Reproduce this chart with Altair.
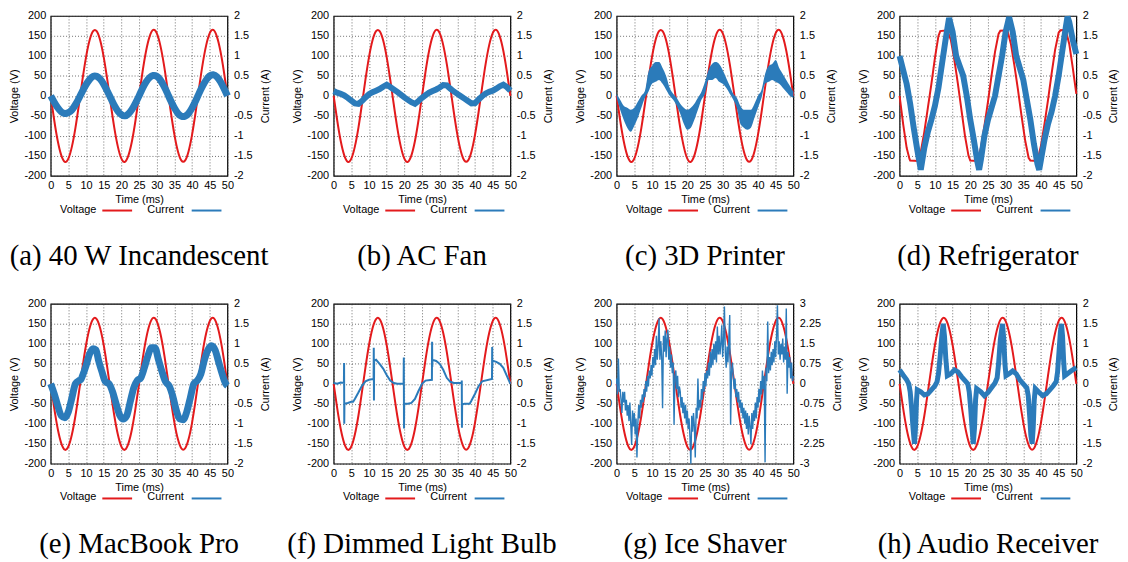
import altair as alt
import pandas as pd

RED = "#e31a1c"
BLUE = "#2b7bba"
SANS = "Liberation Sans"
SERIF = "Liberation Serif"
W, H = 178, 161

X_TICKS = [0, 5, 10, 15, 20, 25, 30, 35, 40, 45, 50]
V_TICKS = [-200, -150, -100, -50, 0, 50, 100, 150, 200]
I_TICKS_2 = [-2, -1.5, -1, -0.5, 0, 0.5, 1, 1.5, 2]
I_TICKS_3 = [-3, -2.25, -1.5, -0.75, 0, 0.75, 1.5, 2.25, 3]

captions = ["(a) 40 W Incandescent", "(b) AC Fan", "(c) 3D Printer", "(d) Refrigerator",
            "(e) MacBook Pro", "(f) Dimmed Light Bulb", "(g) Ice Shaver", "(h) Audio Receiver"]

# sampling grid (ms)
time_ms = list(range(51))

# mains voltage (V), read every 1 ms
voltage = [0, -61, -113, -149, -165, -157, -127, -80, -21, 41, 97, 139, 162, 162, 139, 97, 41,
           -21, -80, -127, -157, -165, -149, -113, -61, 0, 61, 113, 149, 165, 157, 127, 80, 21,
           -41, -97, -139, -162, -162, -139, -97, -41, 21, 80, 127, 157, 165, 149, 113, 61, 0]

# refrigerator panel voltage (flattened peaks)
fridge_v_t = [0, 1, 2, 2.8, 3, 5.3, 6, 7, 8, 9, 10, 11, 11.5, 13.5, 14.5, 15.5, 16.5, 17.5, 18.5,
              19.5, 20, 22, 23, 24, 25, 26, 27, 28, 28.5, 30.5, 31.5, 32.5, 33.5, 34.5, 35.5,
              36.5, 37, 39, 40, 41, 42, 43, 44, 45, 45.5, 47, 48, 49, 50]
fridge_v = [0, -70, -130, -158, -162, -163, -140, -90, -30, 30, 95, 150, 162, 164, 140, 90, 30,
            -35, -100, -150, -162, -163, -130, -75, -15, 50, 110, 155, 163, 164, 130, 75, 15, -50,
            -110, -155, -162, -163, -125, -70, -10, 55, 115, 158, 164, 165, 130, 70, 5]

# (a) incandescent current (A)
a_current = [0, -0.16, -0.30, -0.40, -0.44, -0.42, -0.35, -0.22, -0.06, 0.12, 0.28, 0.41, 0.49,
             0.49, 0.42, 0.29, 0.12, -0.06, -0.24, -0.38, -0.47, -0.50, -0.45, -0.34, -0.18, 0.0,
             0.19, 0.35, 0.46, 0.51, 0.49, 0.40, 0.25, 0.07, -0.13, -0.30, -0.44, -0.51, -0.51,
             -0.44, -0.30, -0.13, 0.07, 0.25, 0.40, 0.50, 0.53, 0.48, 0.36, 0.19, 0.0]

# (b) AC fan current (A)
b_current = [0.12, 0.08, 0.05, 0.01, -0.05, -0.12, -0.19, -0.20, -0.13, -0.04, 0.04, 0.09, 0.13,
             0.17, 0.23, 0.28, 0.22, 0.16, 0.10, 0.03, -0.04, -0.10, -0.16, -0.20, -0.13, -0.05,
             0.02, 0.08, 0.12, 0.16, 0.21, 0.27, 0.26, 0.18, 0.11, 0.05, -0.01, -0.07, -0.13,
             -0.19, -0.18, -0.09, -0.01, 0.06, 0.10, 0.13, 0.18, 0.24, 0.28, 0.22, 0.13]

# (c) 3D printer current envelope (A)
c_low = [-0.05, -0.35, -0.6, -0.8, -0.9, -0.75, -0.55, -0.3, -0.05, 0.1, 0.3, 0.35, 0.4, 0.3,
         0.15, 0.0, -0.1, -0.25, -0.45, -0.7, -0.85, -0.8, -0.6, -0.35, -0.1, 0.05, 0.4, 0.4,
         0.45, 0.35, 0.3, 0.2, 0.05, -0.1, -0.3, -0.7, -0.8, -0.85, -0.8, -0.55, -0.3, -0.05,
         0.3, 0.35, 0.4, 0.35, 0.3, 0.2, 0.1, 0.0, -0.05]
c_high = [0.05, -0.1, -0.25, -0.3, -0.35, -0.3, -0.15, 0.0, 0.12, 0.6, 0.75, 0.85, 0.85, 0.7,
          0.5, 0.2, 0.05, -0.05, -0.2, -0.3, -0.35, -0.3, -0.2, -0.05, 0.1, 0.35, 0.65, 0.8,
          0.85, 0.8, 0.65, 0.45, 0.25, 0.05, -0.05, -0.25, -0.35, -0.35, -0.35, -0.2, 0.0, 0.15,
          0.55, 0.75, 0.8, 0.9, 0.7, 0.55, 0.4, 0.25, 0.1]

# (d) refrigerator current (A)
d_t = [0, 1, 2, 3, 4, 5, 6, 7, 8, 9, 10, 11, 12, 13, 14, 15, 16, 17, 18, 19, 20, 21, 22, 22.5,
       23, 24, 25, 26, 27, 28, 29, 30, 31, 32, 33, 34, 35, 36, 37, 38, 39, 39.5, 40, 41, 42, 43,
       44, 45, 46, 47, 47.5, 48, 49, 50]
d_current = [1.0, 0.65, 0.3, -0.2, -0.8, -1.35, -1.85, -1.3, -0.9, -0.6, -0.25, 0.2, 0.8, 1.4,
             1.95, 1.6, 1.0, 0.75, 0.5, 0.0, -0.6, -1.1, -1.65, -1.85, -1.6, -1.0, -0.6, -0.3,
             0.0, 0.5, 1.0, 1.6, 1.97, 1.6, 1.0, 0.7, 0.4, -0.1, -0.6, -1.2, -1.7, -1.85, -1.6,
             -1.1, -0.7, -0.4, 0.0, 0.5, 1.1, 1.7, 1.98, 1.85, 1.4, 1.05]

# (e) MacBook Pro current (A)
e_t = [0, 1, 2, 3, 4, 5, 6, 7, 8, 8.5, 9, 10, 11, 12, 12.8, 13.5, 14.5, 15.5, 16.5, 17.5, 18.5,
       19.5, 20.5, 21.5, 22.5, 23.5, 24.5, 25.5, 26.5, 27.5, 28.5, 29.5, 30.5, 31.5, 32.5, 33.5,
       34.5, 35.5, 36.5, 37.5, 38.5, 39.5, 40.5, 41.5, 42.5, 43.5, 44.5, 45.5, 46.5, 47.5, 48.5,
       49.5, 50]
e_current = [0, -0.25, -0.55, -0.8, -0.85, -0.7, -0.35, 0.0, 0.08, 0.1, 0.2, 0.45, 0.75, 0.88,
             0.85, 0.6, 0.3, 0.05, 0.0, -0.2, -0.5, -0.78, -0.88, -0.8, -0.45, -0.1, 0.08, 0.15,
             0.4, 0.7, 0.9, 0.9, 0.6, 0.3, 0.05, -0.05, -0.3, -0.65, -0.88, -0.9, -0.7, -0.35,
             0.0, 0.08, 0.25, 0.6, 0.85, 0.95, 0.85, 0.55, 0.25, 0.0, -0.05]

# (f) dimmed light bulb current (A)
f_t = [0, 1, 2, 2.9, 2.95, 3.0, 3.05, 4, 5, 5.5, 6, 7, 8, 9, 10, 11.3, 11.35, 11.4, 11.45, 12,
       13, 14, 15, 16, 17, 18, 19.8, 19.85, 19.9, 19.95, 21, 22, 23, 24, 25, 26, 27.8, 27.85,
       27.9, 27.95, 29, 30, 31, 32, 33, 34, 36.2, 36.25, 36.3, 36.35, 37, 38.5, 39, 40, 41, 42,
       44.8, 44.85, 44.9, 44.95, 46, 47, 48, 49, 50]
f_current = [0.02, 0.0, 0.03, 0.02, 0.52, -1.0, -0.5, -0.48, -0.45, -0.45, -0.38, -0.22, -0.05,
             0.06, 0.1, 0.12, 0.9, -0.42, 0.58, 0.6, 0.5, 0.38, 0.22, 0.08, 0.02, 0.0, 0.0, 0.66,
             -1.12, -0.5, -0.5, -0.48, -0.38, -0.18, 0.0, 0.08, 0.1, 1.05, 0.42, 0.6, 0.57, 0.5,
             0.35, 0.15, 0.05, 0.02, 0.02, 0.08, -1.1, -0.52, -0.5, -0.5, -0.42, -0.25, -0.06,
             0.06, 0.12, 0.92, 0.4, 0.58, 0.55, 0.5, 0.4, 0.2, 0.0]

# (g) ice shaver current (A), every 0.25 ms
g_t = [k / 4 for k in range(201)]
g_current = [0.2, -0.4, 0.95, -0.3, -0.2, -0.6, -1.1, -0.3, -0.7, -0.3, -1.0, -0.6,
             -1.2, -0.8, -1.4, -0.7, -1.5, -2.3, -1.0, -1.6, -1.1, -1.9, -1.3, -2.77,
             -1.5, -0.8, -1.3, -0.6, -0.9, -0.4, -0.7, -0.2, -0.5, 0.1, -0.3, 0.3,
             -0.1, 0.5, 0.2, 0.7, 0.3, 1.0, 0.6, 1.3, 0.7, 1.8, 0.9, 1.4,
             2.46, 0.9, 1.6, 1.0, -0.92, 1.8, 1.2, 2.0, 1.0, 1.7, 2.03, 0.9,
             1.4, 0.6, 1.1, 0.4, 0.8, -1.54, 0.3, 0.5, -0.2, 0.3, -0.5, -0.1,
             -0.3, -0.9, -0.5, -1.1, -0.7, -1.3, -0.8, -1.5, -1.0, -1.7, -1.3, -2.0,
             -3.0, -1.2, -1.8, -1.1, -1.6, -2.77, -0.9, -1.3, 0.2, -1.0, -0.6, -0.9,
             -0.2, -0.6, 0.1, -0.3, 0.4, -0.1, 0.5, 0.2, 0.8, 0.3, 1.2, 0.6,
             1.3, 0.7, 1.5, 0.9, 1.6, 0.8, 2.15, 1.1, 1.8, 1.1, 1.5, 2.2,
             1.0, 1.6, 2.9, 1.2, 0.6, 1.4, 0.8, 1.7, 2.58, -1.54, 0.4, 0.8,
             0.3, -0.2, 0.2, -0.5, -0.2, -0.7, -0.3, -0.9, -0.6, -1.1, -0.7, -1.3,
             -0.9, -1.5, -1.0, -1.7, -1.1, -1.9, -1.2, -1.6, -2.27, -1.1, -1.7, -1.0,
             -1.4, -0.7, -1.3, -0.5, -0.9, -0.2, -0.7, 0.1, -0.4, 0.5, -0.2, 0.3,
             -2.95, 0.6, 0.1, 2.34, 0.4, 1.0, 0.5, 1.2, 0.7, 1.3, 0.8, 1.6,
             1.0, 1.8, 2.95, 1.1, 1.6, 0.9, 1.5, 1.1, 1.7, 0.8, 1.4, 0.9,
             2.83, -0.37, 1.2, 0.6, 1.0, 0.2, 0.8, 0.1, 0.3]

# (h) audio receiver current (A)
h_t = [0, 1, 2, 2.6, 3.0, 3.4, 3.8, 4.2, 4.5, 4.8, 5.0, 6, 7, 8, 9, 10, 10.6, 11.0, 11.5, 12.0,
       12.35, 12.7, 13.1, 13.5, 14.5, 15.5, 16.5, 17.5, 18.5, 19.3, 19.7, 20.1, 20.5, 20.85,
       21.2, 21.5, 21.8, 23, 24, 25, 26, 27, 27.6, 28.0, 28.5, 29.1, 29.5, 29.8, 30.1, 31, 32,
       33, 34, 35, 36, 36.4, 36.8, 37.15, 37.5, 37.8, 38.1, 38.4, 39.5, 40.5, 41.5, 42.5, 43.5,
       44.3, 44.7, 45.1, 45.5, 45.8, 46.1, 46.4, 46.7, 47.5, 48.5, 49.5, 50]
h_current = [0.35, 0.22, 0.1, 0.0, -0.2, -0.6, -1.1, -1.5, -1.1, -0.4, -0.15, -0.2, -0.28, -0.25,
             -0.15, -0.05, 0.05, 0.25, 0.7, 1.25, 1.5, 1.2, 0.6, 0.2, 0.25, 0.35, 0.3, 0.18, 0.08,
             0.0, -0.2, -0.6, -1.1, -1.5, -1.1, -0.4, -0.12, -0.2, -0.3, -0.22, -0.1, 0.02, 0.15,
             0.5, 1.1, 1.5, 1.1, 0.5, 0.2, 0.25, 0.32, 0.25, 0.1, 0.0, -0.1, -0.3, -0.8, -1.3,
             -1.5, -1.1, -0.4, -0.12, -0.22, -0.3, -0.25, -0.15, -0.05, 0.05, 0.3, 0.8, 1.3, 1.5,
             1.2, 0.6, 0.2, 0.25, 0.32, 0.38, 0.4]


def x_enc():
    return alt.X("t:Q", scale=alt.Scale(domain=[0, 50], nice=False, zero=False),
                 axis=alt.Axis(values=X_TICKS, title="Time (ms)", grid=True, labelFlush=False,
                               labelPadding=4, titlePadding=3))


def volt_layer(t, v, interp):
    df = pd.DataFrame({"t": t, "v": v, "i": list(range(len(t)))})
    return alt.Chart(df).mark_line(color=RED, strokeWidth=2, interpolate=interp).encode(
        x=x_enc(),
        y=alt.Y("v:Q", scale=alt.Scale(domain=[-200, 200], nice=False, zero=False),
                axis=alt.Axis(orient="left", values=V_TICKS, title="Voltage (V)", grid=True,
                              labelFlush=False, labelPadding=5, titlePadding=4,
                              labelExpr="datum.value + ''")),
        order="i:Q")


def cur_y(field, lim, ticks):
    return alt.Y(field, scale=alt.Scale(domain=[-lim, lim], nice=False, zero=False),
                 axis=alt.Axis(orient="right", values=ticks, title="Current (A)", grid=False,
                               labelFlush=False, labelPadding=6, titlePadding=7,
                               titleAngle=270, titleBaseline="top",
                               labelExpr="datum.value + ''"))


def cur_line(t, c, width, interp, lim=2, ticks=I_TICKS_2):
    df = pd.DataFrame({"t": t, "c": c, "i": list(range(len(t)))})
    return alt.Chart(df).mark_line(color=BLUE, strokeWidth=width, interpolate=interp).encode(
        x=x_enc(), y=cur_y("c:Q", lim, ticks), order="i:Q")


def cur_band(t, lo, hi):
    df = pd.DataFrame({"t": t, "lo": lo, "hi": hi})
    return alt.Chart(df).mark_area(color=BLUE, opacity=1, interpolate="monotone").encode(
        x=x_enc(), y=cur_y("lo:Q", 2, I_TICKS_2), y2="hi:Q")


ONE = pd.DataFrame({"k": [0]})


def legend_layers():
    base = alt.Chart(ONE)
    txt = dict(align="right", baseline="middle", font=SANS, fontSize=11, color="black")
    return [
        base.mark_text(**txt).encode(x=alt.value(46), y=alt.value(H + 34), text=alt.value("Voltage")),
        base.mark_rule(color=RED, strokeWidth=2).encode(x=alt.value(52), x2=alt.value(82), y=alt.value(H + 35)),
        base.mark_text(**txt).encode(x=alt.value(134), y=alt.value(H + 34), text=alt.value("Current")),
        base.mark_rule(color=BLUE, strokeWidth=2).encode(x=alt.value(142), x2=alt.value(172), y=alt.value(H + 35)),
    ]


def panel(caption, layers):
    return alt.layer(*layers, *legend_layers()).resolve_scale(y="independent").properties(
        width=W, height=H,
        title=alt.TitleParams(caption, orient="bottom", anchor="middle", frame="group", font=SERIF,
                              fontSize=29, fontWeight="normal", color="black",
                              baseline="alphabetic", offset=51))


panels = [
    panel(captions[0], [volt_layer(time_ms, voltage, "natural"), cur_line(time_ms, a_current, 7, "natural")]),
    panel(captions[1], [volt_layer(time_ms, voltage, "natural"), cur_line(time_ms, b_current, 6, "linear")]),
    panel(captions[2], [volt_layer(time_ms, voltage, "natural"), cur_band(time_ms, c_low, c_high)]),
    panel(captions[3], [volt_layer(fridge_v_t, fridge_v, "linear"), cur_line(d_t, d_current, 6, "linear")]),
    panel(captions[4], [volt_layer(time_ms, voltage, "natural"), cur_line(e_t, e_current, 7, "monotone")]),
    panel(captions[5], [volt_layer(time_ms, voltage, "natural"), cur_line(f_t, f_current, 2, "linear")]),
    panel(captions[6], [volt_layer(time_ms, voltage, "natural"), cur_line(g_t, g_current, 1.4, "linear", 3, I_TICKS_3)]),
    panel(captions[7], [volt_layer(time_ms, voltage, "natural"), cur_line(h_t, h_current, 5, "linear")]),
]

chart = alt.concat(
    *panels, columns=4, spacing={"row": 129, "column": 107}, bounds="flush",
).configure_axis(
    labelFont=SANS, labelFontSize=11, labelColor="black",
    titleFont=SANS, titleFontSize=11, titleFontWeight="normal", titleColor="black",
    ticks=False, domain=False, gridColor="#333333", gridDash=[1, 2], gridOpacity=0.7, gridWidth=1,
).configure_view(stroke="black", strokeWidth=1.2).properties(
    padding={"left": 0, "top": -6, "right": 0, "bottom": 0})

chart.save("out.html", embed_options={"renderer": "svg", "actions": False})
